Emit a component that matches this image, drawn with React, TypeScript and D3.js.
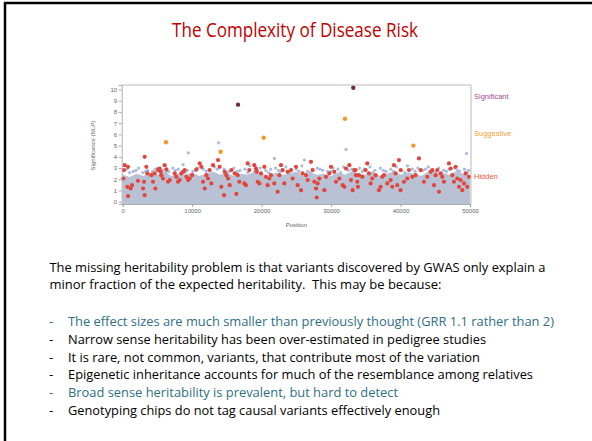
import React, { useEffect, useRef } from 'react'
import * as d3 from 'd3'

// chart data (position, NLP significance)
const significant = [[16600, 8.65], [33200, 10.15]]
const suggestive = [[6230, 5.3], [14100, 4.45], [20290, 5.7], [32000, 7.4], [41850, 5.0]]
const blueOutliers = [[9450, 4.35], [13800, 5.25], [21830, 3.86], [26150, 3.71], [32150, 4.66], [49500, 4.3]]

// upper edge of the dense background cloud, one value per 1000 bp
const cloudTop = [2.4, 2.2, 2.5, 2.3, 2.6, 2.4, 2.7, 2.3, 2.5, 2.4, 2.6, 2.3, 2.5, 2.7, 2.4, 2.6, 2.3, 2.5, 2.4, 2.7,
  2.5, 2.3, 2.6, 2.4, 2.5, 2.7, 2.3, 2.6, 2.4, 2.5, 2.3, 2.6, 2.4, 2.7, 2.5, 2.4, 2.6, 2.3, 2.5, 2.7,
  2.4, 2.6, 2.5, 2.3, 2.7, 2.5, 2.6, 2.4, 2.7, 2.5, 2.4]

const cloudDots = [[600, 2.9], [1500, 2.7], [2300, 3.0], [2900, 2.6], [3600, 2.8], [4300, 2.7], [5000, 3.0], [5700, 2.8],
  [6600, 2.7], [7200, 3.0], [8000, 2.9], [8700, 3.3], [9300, 2.8], [10100, 2.7], [10800, 3.0], [11600, 2.9],
  [12400, 2.8], [13200, 3.1], [14600, 2.9], [15300, 2.7], [16000, 3.0], [16900, 2.8], [17600, 2.9],
  [18300, 3.2], [19000, 2.7], [19800, 3.0], [20600, 2.8], [21300, 2.9], [22000, 3.0], [22700, 2.7], [23500, 3.1],
  [24200, 2.8], [25000, 2.9], [25800, 3.2], [26600, 2.7], [27300, 2.9], [28000, 3.0], [28800, 2.8], [29500, 2.7],
  [30300, 3.0], [31000, 2.9], [31800, 3.1], [32500, 2.8], [33300, 2.7], [34100, 3.0], [34800, 2.9], [35600, 3.1],
  [36300, 2.8], [37100, 3.0], [37900, 2.7], [38600, 2.9], [39400, 3.1], [40200, 2.8], [41000, 3.2], [41700, 2.9],
  [42500, 3.0], [43200, 2.8], [44000, 3.1], [44700, 2.7], [45500, 3.0], [46200, 2.8], [47000, 2.9], [47800, 3.0],
  [48500, 2.7], [49200, 2.9], [49800, 2.8],
  [1000, 2.6], [1900, 2.8], [3300, 2.7], [4700, 2.9], [6200, 2.6], [7600, 2.8], [9000, 2.6], [10500, 2.8],
  [12000, 2.7], [13600, 2.9], [15000, 2.6], [16500, 2.7], [18000, 2.6], [19400, 2.8], [21000, 2.6], [22400, 2.8],
  [24000, 2.6], [25400, 2.7], [27000, 2.6], [28400, 2.9], [30000, 2.7], [31400, 2.6], [33000, 2.9], [34500, 2.7],
  [36000, 2.6], [37500, 2.8], [39000, 2.7], [40600, 2.6], [42100, 2.7], [43600, 2.9], [45100, 2.6], [46600, 2.7],
  [48200, 2.8], [49600, 2.6]]

const hidden = [
  [284, 3.26], [764, 3.11], [188, 2.82], [100, 2.07], [668, 1.33], [1148, 1.18], [1340, 1.48], [764, 0.5],
  [2204, 1.86], [3164, 4.0], [3404, 3.11], [3548, 2.52], [2924, 1.18], [3164, 0.59], [3068, 1.78], [4124, 2.37],
  [4364, 1.78], [4604, 2.52], [4700, 1.18], [5084, 2.82], [5324, 2.96], [5468, 2.67], [5564, 2.37], [5804, 2.07],
  [6044, 3.26], [6284, 2.88], [6524, 1.78], [6764, 1.93], [7484, 2.52], [7724, 2.22], [7964, 1.78], [8204, 1.93],
  [8444, 2.52], [8684, 2.67], [8924, 2.82], [9164, 2.22], [9404, 1.93], [9644, 2.07], [9980, 2.37], [10604, 2.88],
  [11084, 3.41], [11324, 3.11], [11564, 1.78], [11804, 1.18], [12044, 2.37], [12284, 2.07], [12524, 2.82],
  [12764, 1.63], [13004, 3.26], [13724, 3.71], [13964, 3.11], [14204, 1.33], [14684, 2.67], [14924, 2.37],
  [15164, 2.07], [15404, 1.48], [15644, 2.82], [16124, 2.52], [16364, 0.7], [14588, 0.59],
  [16550, 2.37], [16790, 1.78], [17510, 1.63], [17750, 1.48], [17990, 3.41], [18230, 2.82], [18950, 3.26],
  [19190, 2.96], [19286, 2.67], [19430, 1.78], [19670, 1.63], [19910, 2.52], [20390, 3.11], [20630, 2.22],
  [20870, 1.48], [21110, 2.07], [21350, 2.37], [21830, 1.63], [22310, 0.89], [22550, 2.37], [22790, 3.26],
  [23030, 2.82], [23270, 1.63], [23750, 2.67], [24230, 2.82], [24470, 2.07], [24950, 3.11], [25190, 1.48],
  [25670, 1.03], [25910, 2.52], [26390, 2.37], [26630, 1.93], [27110, 3.56], [27350, 2.82], [27590, 1.78],
  [27830, 1.18], [28070, 1.63], [28310, 2.07], [27926, 0.38], [29030, 1.03], [29270, 2.22], [29750, 2.52],
  [29990, 3.11], [30470, 2.67], [30710, 1.78], [31190, 2.07], [31670, 1.48], [31910, 1.33], [32150, 2.96],
  [32630, 3.26], [32870, 1.93], [33110, 1.03], [33350, 2.82], [33590, 2.37],
  [33530, 2.82], [34010, 2.37], [33770, 1.78], [33866, 1.33], [34490, 2.22], [34970, 2.82], [35210, 3.41],
  [35450, 2.52], [35690, 1.63], [35930, 2.07], [36410, 2.37], [36890, 1.03], [37130, 1.33], [37370, 2.22],
  [37610, 2.37], [38090, 1.63], [38570, 1.93], [38810, 1.33], [39050, 3.26], [39290, 2.52], [39530, 1.48],
  [39770, 3.71], [40010, 2.82], [40010, 1.03], [40490, 1.78], [40970, 2.07], [41210, 2.82], [41690, 2.22],
  [42170, 2.37], [42650, 3.86], [42890, 2.82], [43370, 1.78], [43850, 2.22], [44330, 2.67], [44570, 2.82],
  [44810, 1.48], [45050, 2.37], [45290, 2.82], [45530, 0.89], [45770, 2.52], [46010, 2.22], [46250, 1.78],
  [46970, 3.41], [47210, 2.96], [47450, 2.37], [47690, 1.78], [47930, 3.11], [48170, 2.07], [48410, 1.33],
  [48650, 1.93], [48890, 1.03], [49130, 1.63], [49370, 2.52], [49610, 1.33], [49850, 2.22]]

const yTicks = [0, 1, 2, 3, 4, 5, 6, 7, 8, 9, 10]
const xTicks = [0, 10000, 20000, 30000, 40000, 50000]
const legend = ['Significant', 'Suggestive', 'Hidden']
const legendValues = [9.4, 6.1, 2.3]

// slide text
const title = 'The Complexity of Disease Risk'
const introLines = [
  'The missing heritability problem is that variants discovered by GWAS only explain a',
  'minor fraction of the expected heritability.  This may be because:',
]
const bullets = [
  'The effect sizes are much smaller than previously thought (GRR 1.1 rather than 2)',
  'Narrow sense heritability has been over-estimated in pedigree studies',
  'It is rare, not common, variants, that contribute most of the variation',
  'Epigenetic inheritance accounts for much of the resemblance among relatives',
  'Broad sense heritability is prevalent, but hard to detect',
  'Genotyping chips do not tag causal variants effectively enough',
]
const bulletHighlighted = [true, false, false, false, true, false]

export default function App() {
  const ref = useRef<SVGSVGElement>(null)

  useEffect(() => {
    const svg = d3.select(ref.current)
    svg.selectAll('*').remove()

    // slide border (top + left)
    svg.append('line').attr('x1', 4).attr('x2', 592).attr('y1', 3).attr('y2', 3)
      .attr('stroke', '#000').attr('stroke-width', 2.5)
    svg.append('line').attr('x1', 5).attr('x2', 5).attr('y1', 2).attr('y2', 441)
      .attr('stroke', '#000').attr('stroke-width', 2.5)

    svg.append('text')
      .attr('x', 295).attr('y', 37)
      .attr('text-anchor', 'middle')
      .attr('font-family', 'Open Sans, sans-serif')
      .attr('font-size', 20)
      .attr('fill', '#c00000')
      .attr('textLength', 246).attr('lengthAdjust', 'spacingAndGlyphs')
      .text(title)

    // chart
    const left = 122.7, right = 470, top = 85, bottom = 204
    const x = d3.scaleLinear().domain([0, 50000]).range([left, right])
    const y = d3.scaleLinear().domain([-0.2, 10.4]).range([bottom, top])

    const chart = svg.append('g').attr('font-family', 'Liberation Sans, Arial, sans-serif')

    // background cloud
    const area = d3.area<number>()
      .x((d, i) => x(i * 1000))
      .y0(y(-0.2))
      .y1(d => y(d))
    chart.append('path').datum(cloudTop).attr('d', area).attr('fill', '#b8c2d4')

    chart.selectAll('circle.cloud').data(cloudDots.concat(blueOutliers)).enter()
      .append('circle').attr('class', 'cloud')
      .attr('cx', d => x(d[0])).attr('cy', d => y(d[1])).attr('r', 1.6)
      .attr('fill', '#a9bcdb')

    chart.selectAll('circle.hidden').data(hidden).enter()
      .append('circle').attr('class', 'hidden')
      .attr('cx', d => x(d[0])).attr('cy', d => y(d[1])).attr('r', 2.1)
      .attr('fill', '#e2453c')

    chart.selectAll('circle.sugg').data(suggestive).enter()
      .append('circle').attr('class', 'sugg')
      .attr('cx', d => x(d[0])).attr('cy', d => y(d[1])).attr('r', 2.2)
      .attr('fill', '#f29a26')

    chart.selectAll('circle.sig').data(significant).enter()
      .append('circle').attr('class', 'sig')
      .attr('cx', d => x(d[0])).attr('cy', d => y(d[1])).attr('r', 2.2)
      .attr('fill', '#6e2a50')

    // frame top + right
    chart.append('path')
      .attr('d', `M${left - 1},${top}H${right + 1}V${bottom}`)
      .attr('fill', 'none').attr('stroke', '#a8a8a8').attr('stroke-width', 0.8)

    const xAxis = d3.axisBottom(x).tickValues(xTicks).tickSize(3).tickPadding(2).tickFormat(d3.format('d'))
    const yAxis = d3.axisLeft(y).tickValues(yTicks).tickSize(3).tickPadding(1.5)

    const xg = chart.append('g').attr('transform', `translate(0, ${bottom})`).call(xAxis)
    const yg = chart.append('g').attr('transform', `translate(${left - 1}, 0)`).call(yAxis)
    ;[xg, yg].forEach(g => {
      g.select('.domain').attr('stroke', '#999').attr('stroke-width', 0.8)
      g.selectAll('.tick line').attr('stroke', '#999').attr('stroke-width', 0.8)
      g.selectAll('.tick text').attr('fill', '#666').attr('font-size', 6).attr('font-family', 'Liberation Sans, Arial, sans-serif')
    })

    chart.append('text')
      .attr('x', (left + right) / 2).attr('y', 227)
      .attr('text-anchor', 'middle').attr('font-size', 6).attr('fill', '#666')
      .text('Position')

    chart.append('text')
      .attr('transform', `translate(95, ${(y(10) + y(0)) / 2}) rotate(-90)`)
      .attr('text-anchor', 'middle').attr('font-size', 6).attr('fill', '#666')
      .text('Significance (NLP)')

    const legendColors = ['#9a4d8c', '#f3a23a', '#f05a3a']
    chart.selectAll('text.legend').data(legend).enter()
      .append('text').attr('class', 'legend')
      .attr('x', 474).attr('y', (d, i) => y(legendValues[i]) + 2.7)
      .attr('font-size', 7.5).attr('fill', (d, i) => legendColors[i])
      .text(d => d)

    // body text
    const body = svg.append('g').attr('font-family', 'Open Sans, sans-serif').attr('font-size', 13.5)
    const introWidths = [496, 392]
    const introBase = [272, 289]
    introLines.forEach((t, i) => {
      body.append('text').attr('x', 49.5).attr('y', introBase[i])
        .attr('fill', '#000').style('white-space', 'pre')
        .attr('textLength', introWidths[i]).attr('lengthAdjust', 'spacingAndGlyphs')
        .text(t)
    })

    const bulletWidths = [486, 418, 412, 465, 330, 372]
    bullets.forEach((t, i) => {
      const by = 326 + i * 17.8
      const col = bulletHighlighted[i] ? '#2f6f86' : '#000'
      body.append('text').attr('x', 49).attr('y', by).attr('fill', col).text('-')
      body.append('text').attr('x', 68).attr('y', by).attr('fill', col)
        .attr('textLength', bulletWidths[i]).attr('lengthAdjust', 'spacingAndGlyphs')
        .text(t)
    })
  }, [])

  return (
    <svg ref={ref} width={592} height={441}
      style={{ position: 'fixed', left: 0, top: 0, background: '#fff' }} />
  )
}
